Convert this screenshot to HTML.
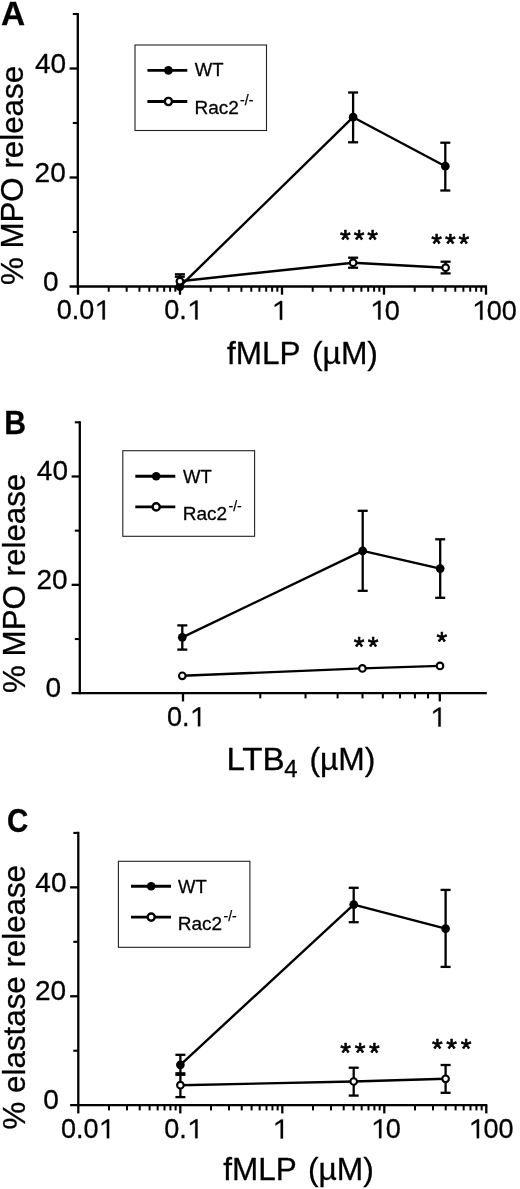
<!DOCTYPE html>
<html><head><meta charset="utf-8"><style>
html,body{margin:0;padding:0;background:#fff;width:520px;height:1189px;overflow:hidden}
</style></head><body>
<svg width="520" height="1189" viewBox="0 0 520 1189" style="display:block;filter:grayscale(1)">
<g style="font-family:'Liberation Sans',sans-serif" fill="#000" stroke="#000" stroke-linecap="butt">
<g stroke="none">
<g transform="translate(1.90,24.80) scale(1.027,1)"><text x="-0.81" y="0" font-size="32.5" font-weight="bold" stroke="#000" stroke-width="0.3" stroke-linejoin="round">A</text></g>
<g transform="translate(6.20,434.10) scale(0.928,1)"><text x="-2.17" y="0" font-size="32.5" font-weight="bold" stroke="#000" stroke-width="0.3" stroke-linejoin="round">B</text></g>
<g transform="translate(8.30,831.58) scale(0.908,1)"><text x="-1.33" y="0" font-size="32.5" font-weight="bold" stroke="#000" stroke-width="0.3" stroke-linejoin="round">C</text></g>
</g>
<line x1="77.80" y1="12.95" x2="77.80" y2="287.50" stroke-width="2.3"/>
<line x1="69.60" y1="286.50" x2="487.00" y2="286.50" stroke-width="2.3"/>
<line x1="72.80" y1="232.00" x2="77.80" y2="232.00" stroke-width="2.1"/>
<line x1="72.80" y1="123.00" x2="77.80" y2="123.00" stroke-width="2.1"/>
<line x1="72.80" y1="14.00" x2="77.80" y2="14.00" stroke-width="2.1"/>
<line x1="69.60" y1="177.50" x2="77.80" y2="177.50" stroke-width="2.3"/>
<line x1="69.60" y1="68.50" x2="77.80" y2="68.50" stroke-width="2.3"/>
<line x1="78.00" y1="286.50" x2="78.00" y2="294.70" stroke-width="2.3"/>
<line x1="108.71" y1="286.50" x2="108.71" y2="291.70" stroke-width="2.0"/>
<line x1="126.67" y1="286.50" x2="126.67" y2="291.70" stroke-width="2.0"/>
<line x1="139.41" y1="286.50" x2="139.41" y2="291.70" stroke-width="2.0"/>
<line x1="149.29" y1="286.50" x2="149.29" y2="291.70" stroke-width="2.0"/>
<line x1="157.37" y1="286.50" x2="157.37" y2="291.70" stroke-width="2.0"/>
<line x1="164.20" y1="286.50" x2="164.20" y2="291.70" stroke-width="2.0"/>
<line x1="170.12" y1="286.50" x2="170.12" y2="291.70" stroke-width="2.0"/>
<line x1="175.33" y1="286.50" x2="175.33" y2="291.70" stroke-width="2.0"/>
<line x1="180.00" y1="286.50" x2="180.00" y2="294.70" stroke-width="2.3"/>
<line x1="210.71" y1="286.50" x2="210.71" y2="291.70" stroke-width="2.0"/>
<line x1="228.67" y1="286.50" x2="228.67" y2="291.70" stroke-width="2.0"/>
<line x1="241.41" y1="286.50" x2="241.41" y2="291.70" stroke-width="2.0"/>
<line x1="251.29" y1="286.50" x2="251.29" y2="291.70" stroke-width="2.0"/>
<line x1="259.37" y1="286.50" x2="259.37" y2="291.70" stroke-width="2.0"/>
<line x1="266.20" y1="286.50" x2="266.20" y2="291.70" stroke-width="2.0"/>
<line x1="272.12" y1="286.50" x2="272.12" y2="291.70" stroke-width="2.0"/>
<line x1="277.33" y1="286.50" x2="277.33" y2="291.70" stroke-width="2.0"/>
<line x1="282.00" y1="286.50" x2="282.00" y2="294.70" stroke-width="2.3"/>
<line x1="312.71" y1="286.50" x2="312.71" y2="291.70" stroke-width="2.0"/>
<line x1="330.67" y1="286.50" x2="330.67" y2="291.70" stroke-width="2.0"/>
<line x1="343.41" y1="286.50" x2="343.41" y2="291.70" stroke-width="2.0"/>
<line x1="353.29" y1="286.50" x2="353.29" y2="291.70" stroke-width="2.0"/>
<line x1="361.37" y1="286.50" x2="361.37" y2="291.70" stroke-width="2.0"/>
<line x1="368.20" y1="286.50" x2="368.20" y2="291.70" stroke-width="2.0"/>
<line x1="374.12" y1="286.50" x2="374.12" y2="291.70" stroke-width="2.0"/>
<line x1="379.33" y1="286.50" x2="379.33" y2="291.70" stroke-width="2.0"/>
<line x1="384.00" y1="286.50" x2="384.00" y2="294.70" stroke-width="2.3"/>
<line x1="414.71" y1="286.50" x2="414.71" y2="291.70" stroke-width="2.0"/>
<line x1="432.67" y1="286.50" x2="432.67" y2="291.70" stroke-width="2.0"/>
<line x1="445.41" y1="286.50" x2="445.41" y2="291.70" stroke-width="2.0"/>
<line x1="455.29" y1="286.50" x2="455.29" y2="291.70" stroke-width="2.0"/>
<line x1="463.37" y1="286.50" x2="463.37" y2="291.70" stroke-width="2.0"/>
<line x1="470.20" y1="286.50" x2="470.20" y2="291.70" stroke-width="2.0"/>
<line x1="476.12" y1="286.50" x2="476.12" y2="291.70" stroke-width="2.0"/>
<line x1="481.33" y1="286.50" x2="481.33" y2="291.70" stroke-width="2.0"/>
<line x1="486.00" y1="286.50" x2="486.00" y2="294.70" stroke-width="2.3"/>
<line x1="78.30" y1="831.85" x2="78.30" y2="1106.20" stroke-width="2.3"/>
<line x1="70.10" y1="1105.20" x2="487.30" y2="1105.20" stroke-width="2.3"/>
<line x1="73.30" y1="1050.74" x2="78.30" y2="1050.74" stroke-width="2.1"/>
<line x1="73.30" y1="941.82" x2="78.30" y2="941.82" stroke-width="2.1"/>
<line x1="73.30" y1="832.90" x2="78.30" y2="832.90" stroke-width="2.1"/>
<line x1="70.10" y1="996.28" x2="78.30" y2="996.28" stroke-width="2.3"/>
<line x1="70.10" y1="887.36" x2="78.30" y2="887.36" stroke-width="2.3"/>
<line x1="78.30" y1="1105.20" x2="78.30" y2="1113.40" stroke-width="2.3"/>
<line x1="109.01" y1="1105.20" x2="109.01" y2="1110.40" stroke-width="2.0"/>
<line x1="126.97" y1="1105.20" x2="126.97" y2="1110.40" stroke-width="2.0"/>
<line x1="139.71" y1="1105.20" x2="139.71" y2="1110.40" stroke-width="2.0"/>
<line x1="149.59" y1="1105.20" x2="149.59" y2="1110.40" stroke-width="2.0"/>
<line x1="157.67" y1="1105.20" x2="157.67" y2="1110.40" stroke-width="2.0"/>
<line x1="164.50" y1="1105.20" x2="164.50" y2="1110.40" stroke-width="2.0"/>
<line x1="170.42" y1="1105.20" x2="170.42" y2="1110.40" stroke-width="2.0"/>
<line x1="175.63" y1="1105.20" x2="175.63" y2="1110.40" stroke-width="2.0"/>
<line x1="180.30" y1="1105.20" x2="180.30" y2="1113.40" stroke-width="2.3"/>
<line x1="211.01" y1="1105.20" x2="211.01" y2="1110.40" stroke-width="2.0"/>
<line x1="228.97" y1="1105.20" x2="228.97" y2="1110.40" stroke-width="2.0"/>
<line x1="241.71" y1="1105.20" x2="241.71" y2="1110.40" stroke-width="2.0"/>
<line x1="251.59" y1="1105.20" x2="251.59" y2="1110.40" stroke-width="2.0"/>
<line x1="259.67" y1="1105.20" x2="259.67" y2="1110.40" stroke-width="2.0"/>
<line x1="266.50" y1="1105.20" x2="266.50" y2="1110.40" stroke-width="2.0"/>
<line x1="272.42" y1="1105.20" x2="272.42" y2="1110.40" stroke-width="2.0"/>
<line x1="277.63" y1="1105.20" x2="277.63" y2="1110.40" stroke-width="2.0"/>
<line x1="282.30" y1="1105.20" x2="282.30" y2="1113.40" stroke-width="2.3"/>
<line x1="313.01" y1="1105.20" x2="313.01" y2="1110.40" stroke-width="2.0"/>
<line x1="330.97" y1="1105.20" x2="330.97" y2="1110.40" stroke-width="2.0"/>
<line x1="343.71" y1="1105.20" x2="343.71" y2="1110.40" stroke-width="2.0"/>
<line x1="353.59" y1="1105.20" x2="353.59" y2="1110.40" stroke-width="2.0"/>
<line x1="361.67" y1="1105.20" x2="361.67" y2="1110.40" stroke-width="2.0"/>
<line x1="368.50" y1="1105.20" x2="368.50" y2="1110.40" stroke-width="2.0"/>
<line x1="374.42" y1="1105.20" x2="374.42" y2="1110.40" stroke-width="2.0"/>
<line x1="379.63" y1="1105.20" x2="379.63" y2="1110.40" stroke-width="2.0"/>
<line x1="384.30" y1="1105.20" x2="384.30" y2="1113.40" stroke-width="2.3"/>
<line x1="415.01" y1="1105.20" x2="415.01" y2="1110.40" stroke-width="2.0"/>
<line x1="432.97" y1="1105.20" x2="432.97" y2="1110.40" stroke-width="2.0"/>
<line x1="445.71" y1="1105.20" x2="445.71" y2="1110.40" stroke-width="2.0"/>
<line x1="455.59" y1="1105.20" x2="455.59" y2="1110.40" stroke-width="2.0"/>
<line x1="463.67" y1="1105.20" x2="463.67" y2="1110.40" stroke-width="2.0"/>
<line x1="470.50" y1="1105.20" x2="470.50" y2="1110.40" stroke-width="2.0"/>
<line x1="476.42" y1="1105.20" x2="476.42" y2="1110.40" stroke-width="2.0"/>
<line x1="481.63" y1="1105.20" x2="481.63" y2="1110.40" stroke-width="2.0"/>
<line x1="486.30" y1="1105.20" x2="486.30" y2="1113.40" stroke-width="2.3"/>
<line x1="79.80" y1="421.25" x2="79.80" y2="694.20" stroke-width="2.3"/>
<line x1="71.60" y1="693.20" x2="486.80" y2="693.20" stroke-width="2.3"/>
<line x1="74.80" y1="639.02" x2="79.80" y2="639.02" stroke-width="2.1"/>
<line x1="74.80" y1="530.66" x2="79.80" y2="530.66" stroke-width="2.1"/>
<line x1="74.80" y1="422.30" x2="79.80" y2="422.30" stroke-width="2.1"/>
<line x1="71.60" y1="584.84" x2="79.80" y2="584.84" stroke-width="2.3"/>
<line x1="71.60" y1="476.48" x2="79.80" y2="476.48" stroke-width="2.3"/>
<line x1="183.00" y1="693.20" x2="183.00" y2="701.40" stroke-width="2.3"/>
<line x1="260.30" y1="693.20" x2="260.30" y2="698.40" stroke-width="2.0"/>
<line x1="305.52" y1="693.20" x2="305.52" y2="698.40" stroke-width="2.0"/>
<line x1="337.61" y1="693.20" x2="337.61" y2="698.40" stroke-width="2.0"/>
<line x1="362.50" y1="693.20" x2="362.50" y2="698.40" stroke-width="2.0"/>
<line x1="382.83" y1="693.20" x2="382.83" y2="698.40" stroke-width="2.0"/>
<line x1="400.02" y1="693.20" x2="400.02" y2="698.40" stroke-width="2.0"/>
<line x1="414.91" y1="693.20" x2="414.91" y2="698.40" stroke-width="2.0"/>
<line x1="428.05" y1="693.20" x2="428.05" y2="698.40" stroke-width="2.0"/>
<line x1="439.80" y1="693.20" x2="439.80" y2="701.40" stroke-width="2.3"/>
<polyline points="179.80,286.60 353.10,117.20 445.30,166.20" fill="none" stroke-width="2.4" stroke-linejoin="round"/>
<polyline points="179.90,281.20 353.10,262.70 445.60,267.70" fill="none" stroke-width="2.4" stroke-linejoin="round"/>
<line x1="179.80" y1="276.70" x2="179.80" y2="286.60" stroke-width="2.3"/>
<line x1="174.80" y1="276.70" x2="184.80" y2="276.70" stroke-width="2.3"/>
<line x1="353.10" y1="92.50" x2="353.10" y2="142.30" stroke-width="2.3"/>
<line x1="348.10" y1="92.50" x2="358.10" y2="92.50" stroke-width="2.3"/>
<line x1="348.10" y1="142.30" x2="358.10" y2="142.30" stroke-width="2.3"/>
<line x1="445.30" y1="142.70" x2="445.30" y2="190.50" stroke-width="2.3"/>
<line x1="440.30" y1="142.70" x2="450.30" y2="142.70" stroke-width="2.3"/>
<line x1="440.30" y1="190.50" x2="450.30" y2="190.50" stroke-width="2.3"/>
<line x1="179.90" y1="274.30" x2="179.90" y2="281.20" stroke-width="2.3"/>
<line x1="174.90" y1="274.30" x2="184.90" y2="274.30" stroke-width="2.3"/>
<line x1="353.10" y1="257.70" x2="353.10" y2="267.70" stroke-width="2.3"/>
<line x1="348.10" y1="257.70" x2="358.10" y2="257.70" stroke-width="2.3"/>
<line x1="348.10" y1="267.70" x2="358.10" y2="267.70" stroke-width="2.3"/>
<line x1="445.60" y1="261.70" x2="445.60" y2="273.40" stroke-width="2.3"/>
<line x1="440.60" y1="261.70" x2="450.60" y2="261.70" stroke-width="2.3"/>
<line x1="440.60" y1="273.40" x2="450.60" y2="273.40" stroke-width="2.3"/>
<circle cx="179.80" cy="286.60" r="4.35" fill="#000" stroke="none"/>
<circle cx="353.10" cy="117.20" r="4.35" fill="#000" stroke="none"/>
<circle cx="445.30" cy="166.20" r="4.35" fill="#000" stroke="none"/>
<circle cx="179.90" cy="281.20" r="3.30" fill="#fff" stroke-width="2.1"/>
<circle cx="353.10" cy="262.70" r="3.30" fill="#fff" stroke-width="2.1"/>
<circle cx="445.60" cy="267.70" r="3.30" fill="#fff" stroke-width="2.1"/>
<polyline points="182.30,637.30 362.70,550.90 440.20,568.60" fill="none" stroke-width="2.4" stroke-linejoin="round"/>
<polyline points="182.30,675.80 362.40,668.40 440.00,665.90" fill="none" stroke-width="2.4" stroke-linejoin="round"/>
<line x1="182.30" y1="625.40" x2="182.30" y2="649.60" stroke-width="2.3"/>
<line x1="177.30" y1="625.40" x2="187.30" y2="625.40" stroke-width="2.3"/>
<line x1="177.30" y1="649.60" x2="187.30" y2="649.60" stroke-width="2.3"/>
<line x1="362.70" y1="510.80" x2="362.70" y2="590.80" stroke-width="2.3"/>
<line x1="357.70" y1="510.80" x2="367.70" y2="510.80" stroke-width="2.3"/>
<line x1="357.70" y1="590.80" x2="367.70" y2="590.80" stroke-width="2.3"/>
<line x1="440.20" y1="539.30" x2="440.20" y2="597.80" stroke-width="2.3"/>
<line x1="435.20" y1="539.30" x2="445.20" y2="539.30" stroke-width="2.3"/>
<line x1="435.20" y1="597.80" x2="445.20" y2="597.80" stroke-width="2.3"/>
<circle cx="182.30" cy="637.30" r="4.35" fill="#000" stroke="none"/>
<circle cx="362.70" cy="550.90" r="4.35" fill="#000" stroke="none"/>
<circle cx="440.20" cy="568.60" r="4.35" fill="#000" stroke="none"/>
<circle cx="182.30" cy="675.80" r="3.30" fill="#fff" stroke-width="2.1"/>
<circle cx="362.40" cy="668.40" r="3.30" fill="#fff" stroke-width="2.1"/>
<circle cx="440.00" cy="665.90" r="3.30" fill="#fff" stroke-width="2.1"/>
<polyline points="180.40,1064.80 353.70,904.60 445.60,928.70" fill="none" stroke-width="2.4" stroke-linejoin="round"/>
<polyline points="180.40,1085.20 353.70,1081.50 445.60,1078.80" fill="none" stroke-width="2.4" stroke-linejoin="round"/>
<line x1="180.40" y1="1054.80" x2="180.40" y2="1074.80" stroke-width="2.3"/>
<line x1="175.40" y1="1054.80" x2="185.40" y2="1054.80" stroke-width="2.3"/>
<line x1="175.40" y1="1074.80" x2="185.40" y2="1074.80" stroke-width="2.3"/>
<line x1="353.70" y1="887.80" x2="353.70" y2="922.20" stroke-width="2.3"/>
<line x1="348.70" y1="887.80" x2="358.70" y2="887.80" stroke-width="2.3"/>
<line x1="348.70" y1="922.20" x2="358.70" y2="922.20" stroke-width="2.3"/>
<line x1="445.60" y1="889.90" x2="445.60" y2="966.90" stroke-width="2.3"/>
<line x1="440.60" y1="889.90" x2="450.60" y2="889.90" stroke-width="2.3"/>
<line x1="440.60" y1="966.90" x2="450.60" y2="966.90" stroke-width="2.3"/>
<line x1="180.40" y1="1073.30" x2="180.40" y2="1097.10" stroke-width="2.3"/>
<line x1="175.40" y1="1073.30" x2="185.40" y2="1073.30" stroke-width="2.3"/>
<line x1="175.40" y1="1097.10" x2="185.40" y2="1097.10" stroke-width="2.3"/>
<line x1="353.70" y1="1067.70" x2="353.70" y2="1095.60" stroke-width="2.3"/>
<line x1="348.70" y1="1067.70" x2="358.70" y2="1067.70" stroke-width="2.3"/>
<line x1="348.70" y1="1095.60" x2="358.70" y2="1095.60" stroke-width="2.3"/>
<line x1="445.60" y1="1065.00" x2="445.60" y2="1092.80" stroke-width="2.3"/>
<line x1="440.60" y1="1065.00" x2="450.60" y2="1065.00" stroke-width="2.3"/>
<line x1="440.60" y1="1092.80" x2="450.60" y2="1092.80" stroke-width="2.3"/>
<circle cx="180.40" cy="1064.80" r="4.35" fill="#000" stroke="none"/>
<circle cx="353.70" cy="904.60" r="4.35" fill="#000" stroke="none"/>
<circle cx="445.60" cy="928.70" r="4.35" fill="#000" stroke="none"/>
<circle cx="180.40" cy="1085.20" r="3.30" fill="#fff" stroke-width="2.1"/>
<circle cx="353.70" cy="1081.50" r="3.30" fill="#fff" stroke-width="2.1"/>
<circle cx="445.60" cy="1078.80" r="3.30" fill="#fff" stroke-width="2.1"/>
<rect x="135.00" y="45.00" width="131.50" height="85.50" fill="none" stroke="#222" stroke-width="1.1"/>
<line x1="147.40" y1="70.40" x2="187.30" y2="70.40" stroke-width="2.9"/>
<circle cx="168.40" cy="70.40" r="4.30" fill="#000" stroke="none"/>
<line x1="147.40" y1="101.50" x2="187.30" y2="101.50" stroke-width="2.9"/>
<circle cx="168.40" cy="101.50" r="3.60" fill="#fff" stroke-width="2.4"/>
<text x="194.72" y="76.43" font-size="18.5" font-weight="normal" stroke="#000" stroke-width="0.3" stroke-linejoin="round" >WT</text>
<text x="194.44" y="113.90" font-size="19.0" font-weight="normal" stroke="#000" stroke-width="0.3" stroke-linejoin="round" >Rac2</text>
<text x="240.10" y="105.10" font-size="14" stroke="#000" stroke-width="0.25">-/-</text>
<rect x="122.80" y="450.70" width="131.80" height="85.60" fill="none" stroke="#222" stroke-width="1.1"/>
<line x1="135.30" y1="476.30" x2="175.30" y2="476.30" stroke-width="2.9"/>
<circle cx="156.20" cy="476.30" r="4.30" fill="#000" stroke="none"/>
<line x1="135.30" y1="506.90" x2="175.30" y2="506.90" stroke-width="2.9"/>
<circle cx="156.20" cy="506.90" r="3.60" fill="#fff" stroke-width="2.4"/>
<text x="183.12" y="482.73" font-size="18.5" font-weight="normal" stroke="#000" stroke-width="0.3" stroke-linejoin="round" >WT</text>
<text x="182.84" y="520.00" font-size="19.0" font-weight="normal" stroke="#000" stroke-width="0.3" stroke-linejoin="round" >Rac2</text>
<text x="228.50" y="511.20" font-size="14" stroke="#000" stroke-width="0.25">-/-</text>
<rect x="118.40" y="861.30" width="131.50" height="86.00" fill="none" stroke="#222" stroke-width="1.1"/>
<line x1="131.00" y1="886.30" x2="171.00" y2="886.30" stroke-width="2.9"/>
<circle cx="151.20" cy="886.30" r="4.30" fill="#000" stroke="none"/>
<line x1="131.00" y1="917.10" x2="171.00" y2="917.10" stroke-width="2.9"/>
<circle cx="151.20" cy="917.10" r="3.60" fill="#fff" stroke-width="2.4"/>
<text x="178.12" y="892.73" font-size="18.5" font-weight="normal" stroke="#000" stroke-width="0.3" stroke-linejoin="round" >WT</text>
<text x="177.84" y="930.00" font-size="19.0" font-weight="normal" stroke="#000" stroke-width="0.3" stroke-linejoin="round" >Rac2</text>
<text x="223.50" y="921.20" font-size="14" stroke="#000" stroke-width="0.25">-/-</text>
<g stroke="none">
<text x="34.96" y="72.83" font-size="28" font-weight="normal" stroke="#000" stroke-width="0.3" stroke-linejoin="round" >40</text>
<text x="34.59" y="181.63" font-size="28" font-weight="normal" stroke="#000" stroke-width="0.3" stroke-linejoin="round" >20</text>
<text x="43.11" y="290.73" font-size="28" font-weight="normal" stroke="#000" stroke-width="0.3" stroke-linejoin="round" >0</text>
<text x="36.86" y="480.33" font-size="28" font-weight="normal" stroke="#000" stroke-width="0.3" stroke-linejoin="round" >40</text>
<text x="36.39" y="588.73" font-size="28" font-weight="normal" stroke="#000" stroke-width="0.3" stroke-linejoin="round" >20</text>
<text x="45.61" y="697.43" font-size="28" font-weight="normal" stroke="#000" stroke-width="0.3" stroke-linejoin="round" >0</text>
<text x="35.36" y="891.53" font-size="28" font-weight="normal" stroke="#000" stroke-width="0.3" stroke-linejoin="round" >40</text>
<text x="34.89" y="1000.33" font-size="28" font-weight="normal" stroke="#000" stroke-width="0.3" stroke-linejoin="round" >20</text>
<text x="43.31" y="1109.13" font-size="28" font-weight="normal" stroke="#000" stroke-width="0.3" stroke-linejoin="round" >0</text>
<text x="56.65" y="319.44" font-size="27" font-weight="normal" stroke="#000" stroke-width="0.3" stroke-linejoin="round" >0.0</text>
<path d="M104.84,319.44L104.84,300.54L103.09,300.54L97.42,304.32L97.42,306.61L102.55,303.29L102.55,319.44Z" stroke="#000" stroke-width="0.3" stroke-linejoin="round"/>
<text x="164.35" y="319.44" font-size="27" font-weight="normal" stroke="#000" stroke-width="0.3" stroke-linejoin="round" >0.</text>
<path d="M197.53,319.44L197.53,300.54L195.77,300.54L190.10,304.32L190.10,306.61L195.23,303.29L195.23,319.44Z" stroke="#000" stroke-width="0.3" stroke-linejoin="round"/>
<path d="M282.16,319.80L282.16,300.90L280.41,300.90L274.74,304.68L274.74,306.98L279.87,303.65L279.87,319.80Z" stroke="#000" stroke-width="0.3" stroke-linejoin="round"/>
<path d="M380.46,319.54L380.46,300.64L378.70,300.64L373.03,304.42L373.03,306.71L378.16,303.39L378.16,319.54Z" stroke="#000" stroke-width="0.3" stroke-linejoin="round"/>
<text x="384.81" y="319.54" font-size="27" font-weight="normal" stroke="#000" stroke-width="0.3" stroke-linejoin="round" >0</text>
<path d="M482.46,319.64L482.46,300.74L480.70,300.74L475.03,304.52L475.03,306.81L480.16,303.49L480.16,319.64Z" stroke="#000" stroke-width="0.3" stroke-linejoin="round"/>
<text x="486.81" y="319.64" font-size="27" font-weight="normal" stroke="#000" stroke-width="0.3" stroke-linejoin="round" >00</text>
<text x="167.05" y="726.24" font-size="27" font-weight="normal" stroke="#000" stroke-width="0.3" stroke-linejoin="round" >0.</text>
<path d="M200.23,726.24L200.23,707.34L198.47,707.34L192.80,711.12L192.80,713.41L197.93,710.09L197.93,726.24Z" stroke="#000" stroke-width="0.3" stroke-linejoin="round"/>
<path d="M440.66,726.50L440.66,707.60L438.91,707.60L433.24,711.38L433.24,713.67L438.37,710.35L438.37,726.50Z" stroke="#000" stroke-width="0.3" stroke-linejoin="round"/>
<text x="60.95" y="1138.24" font-size="27" font-weight="normal" stroke="#000" stroke-width="0.3" stroke-linejoin="round" >0.0</text>
<path d="M109.14,1138.24L109.14,1119.34L107.39,1119.34L101.72,1123.12L101.72,1125.41L106.85,1122.09L106.85,1138.24Z" stroke="#000" stroke-width="0.3" stroke-linejoin="round"/>
<text x="164.35" y="1138.24" font-size="27" font-weight="normal" stroke="#000" stroke-width="0.3" stroke-linejoin="round" >0.</text>
<path d="M197.53,1138.24L197.53,1119.34L195.77,1119.34L190.10,1123.12L190.10,1125.41L195.23,1122.09L195.23,1138.24Z" stroke="#000" stroke-width="0.3" stroke-linejoin="round"/>
<path d="M282.96,1138.40L282.96,1119.50L281.20,1119.50L275.53,1123.28L275.53,1125.58L280.66,1122.25L280.66,1138.40Z" stroke="#000" stroke-width="0.3" stroke-linejoin="round"/>
<path d="M381.36,1138.14L381.36,1119.24L379.61,1119.24L373.94,1123.02L373.94,1125.31L379.06,1121.99L379.06,1138.14Z" stroke="#000" stroke-width="0.3" stroke-linejoin="round"/>
<text x="385.71" y="1138.14" font-size="27" font-weight="normal" stroke="#000" stroke-width="0.3" stroke-linejoin="round" >0</text>
<path d="M479.06,1138.24L479.06,1119.34L477.31,1119.34L471.63,1123.12L471.63,1125.41L476.76,1122.09L476.76,1138.24Z" stroke="#000" stroke-width="0.3" stroke-linejoin="round"/>
<text x="483.41" y="1138.24" font-size="27" font-weight="normal" stroke="#000" stroke-width="0.3" stroke-linejoin="round" >00</text>
<text x="340.06" y="248.52" font-size="27.5" font-weight="normal" stroke="#000" stroke-width="0.7" stroke-linejoin="round" >*</text>
<text x="353.69" y="248.52" font-size="27.5" font-weight="normal" stroke="#000" stroke-width="0.7" stroke-linejoin="round" >*</text>
<text x="367.33" y="248.52" font-size="27.5" font-weight="normal" stroke="#000" stroke-width="0.7" stroke-linejoin="round" >*</text>
<text x="431.36" y="252.92" font-size="27.5" font-weight="normal" stroke="#000" stroke-width="0.7" stroke-linejoin="round" >*</text>
<text x="444.89" y="252.92" font-size="27.5" font-weight="normal" stroke="#000" stroke-width="0.7" stroke-linejoin="round" >*</text>
<text x="458.43" y="252.92" font-size="27.5" font-weight="normal" stroke="#000" stroke-width="0.7" stroke-linejoin="round" >*</text>
<text x="353.86" y="655.52" font-size="27.5" font-weight="normal" stroke="#000" stroke-width="0.7" stroke-linejoin="round" >*</text>
<text x="367.83" y="655.52" font-size="27.5" font-weight="normal" stroke="#000" stroke-width="0.7" stroke-linejoin="round" >*</text>
<text x="436.46" y="651.12" font-size="27.5" font-weight="normal" stroke="#000" stroke-width="0.7" stroke-linejoin="round" >*</text>
<text x="340.26" y="1061.52" font-size="27.5" font-weight="normal" stroke="#000" stroke-width="0.7" stroke-linejoin="round" >*</text>
<text x="354.64" y="1061.52" font-size="27.5" font-weight="normal" stroke="#000" stroke-width="0.7" stroke-linejoin="round" >*</text>
<text x="369.03" y="1061.52" font-size="27.5" font-weight="normal" stroke="#000" stroke-width="0.7" stroke-linejoin="round" >*</text>
<text x="431.96" y="1057.92" font-size="27.5" font-weight="normal" stroke="#000" stroke-width="0.7" stroke-linejoin="round" >*</text>
<text x="446.34" y="1057.92" font-size="27.5" font-weight="normal" stroke="#000" stroke-width="0.7" stroke-linejoin="round" >*</text>
<text x="460.73" y="1057.92" font-size="27.5" font-weight="normal" stroke="#000" stroke-width="0.7" stroke-linejoin="round" >*</text>
<text transform="translate(23.10,284.00) rotate(-90)" x="-1.12" y="0" font-size="31.3" stroke="#000" stroke-width="0.3" stroke-linejoin="round">% MPO release</text>
<text transform="translate(24.50,691.80) rotate(-90)" x="-1.12" y="0" font-size="31.3" stroke="#000" stroke-width="0.3" stroke-linejoin="round">% MPO release</text>
<text transform="translate(24.60,1128.30) rotate(-90)" x="-1.12" y="0" font-size="31.3" stroke="#000" stroke-width="0.3" stroke-linejoin="round">% elastase release</text>
<g transform="translate(227.40,363.50) scale(1.016,1)" stroke="#000" stroke-width="0.3" stroke-linejoin="round"><text x="-0.44" y="0" font-size="31">fMLP</text></g>
<g transform="translate(314.00,363.50) scale(1.025,1)" stroke="#000" stroke-width="0.3" stroke-linejoin="round"><text x="-1.92" y="0" font-size="31">(µM)</text></g>
<g transform="translate(223.80,1179.60) scale(1.016,1)" stroke="#000" stroke-width="0.3" stroke-linejoin="round"><text x="-0.44" y="0" font-size="31">fMLP</text></g>
<g transform="translate(309.90,1179.60) scale(1.025,1)" stroke="#000" stroke-width="0.3" stroke-linejoin="round"><text x="-1.92" y="0" font-size="31">(µM)</text></g>
<g transform="translate(229.10,769.60) scale(1.07,1)" stroke="#000" stroke-width="0.3" stroke-linejoin="round"><text x="-2.54" y="0" font-size="31">LTB</text></g>
<g transform="translate(284.80,776.70) scale(1.0,1)" stroke="#000" stroke-width="0.3" stroke-linejoin="round"><text x="-0.55" y="0" font-size="24">4</text></g>
<g transform="translate(311.40,769.60) scale(1.025,1)" stroke="#000" stroke-width="0.3" stroke-linejoin="round"><text x="-1.92" y="0" font-size="31">(µM)</text></g>
</g>
</g></svg>
</body></html>
